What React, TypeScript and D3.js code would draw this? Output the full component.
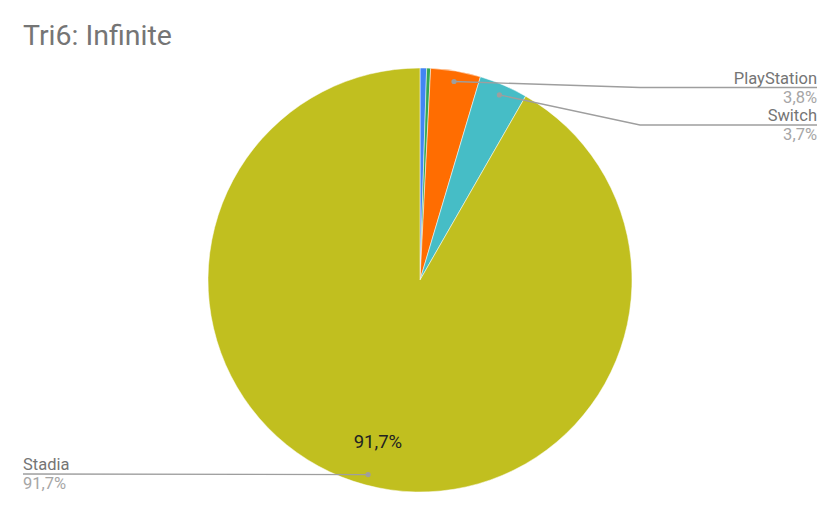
import React from "react";
import * as d3 from "d3";

const categories = ["Xbox", "PC", "PlayStation", "Switch", "Stadia"];
const values = [0.5, 0.3, 3.8, 3.7, 91.7];
const colors = ["#4285f4", "#34a853", "#ff6d01", "#46bdc6", "#c1bf1f"];
const outsideLabels = ["PlayStation", "Switch", "Stadia"];
const valueLabels = ["3,8%", "3,7%", "91,7%"];
const insideLabel = "91,7%";

const W = 840, H = 512;
const cx = 420, cy = 280, R = 212;
const font = "Roboto, 'Noto Sans', sans-serif";

export default function App() {
  const pie = d3.pie<number>().sort(null).value((d) => d);
  const arcs = pie(values);
  const arc = d3.arc<d3.PieArcDatum<number>>().innerRadius(0).outerRadius(R);
  const pt = (a: number, r: number) => [cx + r * Math.sin(a), cy - r * Math.cos(a)];

  const labelInfo: Record<string, { bx: number; by: number; ex: number; anchor: "end" | "start" }> = {
    PlayStation: { bx: 640, by: 87.5, ex: 817, anchor: "end" },
    Switch: { bx: 640, by: 125, ex: 817, anchor: "end" },
    Stadia: { bx: 23, by: 474, ex: 23, anchor: "start" },
  };

  return (
    <svg width={W} height={H} style={{ display: "block", position: "absolute", left: 0, top: 0 }}>
      <rect width={W} height={H} fill="#fff" />
      <text x={23} y={45} fontFamily={font} fontSize={28.5} fill="#757575">Tri6: Infinite</text>
      <g transform={`translate(${cx},${cy})`}>
        {arcs.map((a, i) => (
          <path key={i} d={arc(a) || ""} fill={colors[i]} stroke="#fff" strokeWidth={0.5} />
        ))}
      </g>
      {arcs.map((a, i) => {
        const name = categories[i];
        const li = outsideLabels.indexOf(name);
        if (li < 0) return null;
        const info = labelInfo[name];
        const mid = (a.startAngle + a.endAngle) / 2;
        const [dx, dy] = pt(mid, R * 0.95);
        const tx = info.anchor === "end" ? info.ex : info.bx;
        const pts =
          info.anchor === "end"
            ? `${dx},${dy} ${info.bx},${info.by} ${info.ex},${info.by}`
            : `${info.bx},${info.by} ${dx},${dy}`;
        return (
          <g key={name}>
            <polyline points={pts} fill="none" stroke="#9e9e9e" strokeWidth={1.3} />
            <circle cx={dx} cy={dy} r={2.6} fill="#9e9e9e" />
            <text x={tx} y={info.by - 4} textAnchor={info.anchor} fontFamily={font} fontSize={16.5} fill="#757575">{name}</text>
            <text x={tx} y={info.by + 15} textAnchor={info.anchor} fontFamily={font} fontSize={16.5} fill="#a6a6a6">{valueLabels[li]}</text>
          </g>
        );
      })}
      {(() => {
        const a = arcs[4];
        const mid = (a.startAngle + a.endAngle) / 2;
        const [x, y] = pt(mid, R * 0.77);
        return (
          <text x={x} y={y + 10} textAnchor="middle" fontFamily={font} fontSize={18.5} fill="#222">{insideLabel}</text>
        );
      })()}
    </svg>
  );
}
